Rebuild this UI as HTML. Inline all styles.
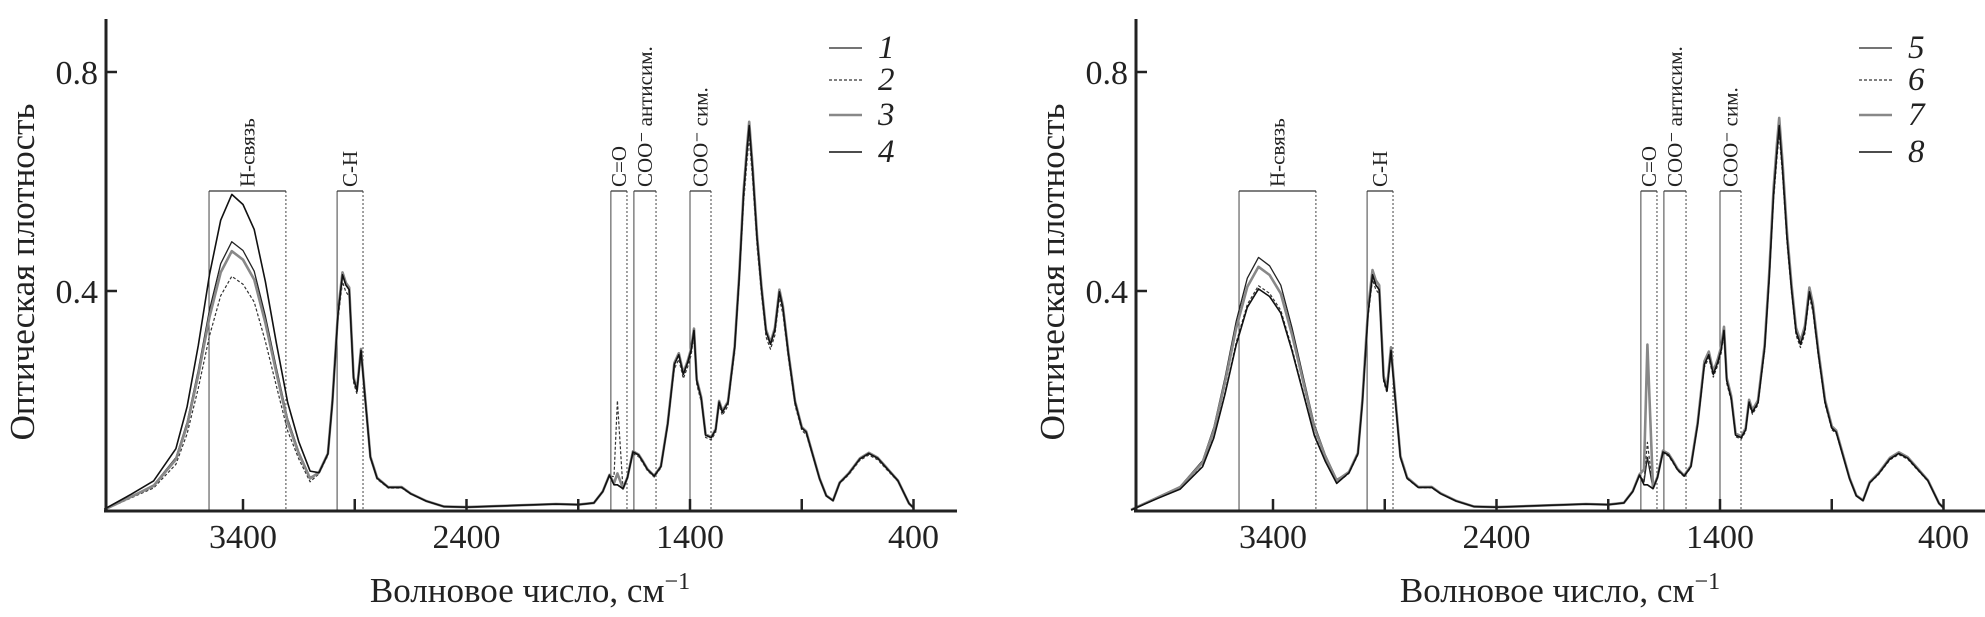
<!DOCTYPE html>
<html><head><meta charset="utf-8"><style>
body{margin:0;background:#fff;width:1985px;height:612px;overflow:hidden}
svg text{font-family:"Liberation Serif",serif;fill:#222}
</style></head><body>
<svg id="s" width="1985" height="612" xmlns="http://www.w3.org/2000/svg"></svg>
<script>
const S=document.getElementById('s');
const base=[[4020,0.005],[3900,0.025],[3800,0.05],[3700,0.11],[3650,0.19],[3600,0.30],[3550,0.43],[3500,0.53],[3450,0.575],[3400,0.56],[3350,0.51],[3300,0.42],[3250,0.30],[3200,0.20],[3150,0.12],[3100,0.075],[3060,0.07],[3020,0.1],[3000,0.2],[2975,0.36],[2955,0.43],[2940,0.41],[2925,0.40],[2905,0.24],[2890,0.22],[2872,0.29],[2855,0.21],[2830,0.1],[2800,0.06],[2750,0.04],[2690,0.045],[2650,0.03],[2580,0.015],[2500,0.004],[2400,0.002],[2200,0.004],[2000,0.008],[1900,0.008],[1830,0.01],[1790,0.03],[1760,0.06],[1740,0.05],[1725,0.05],[1700,0.04],[1680,0.06],[1655,0.11],[1630,0.1],[1610,0.09],[1590,0.07],[1560,0.06],[1530,0.08],[1500,0.16],[1470,0.27],[1450,0.28],[1430,0.25],[1410,0.27],[1395,0.29],[1382,0.33],[1370,0.24],[1350,0.2],[1330,0.14],[1305,0.13],[1285,0.15],[1270,0.2],[1255,0.18],[1230,0.2],[1200,0.3],[1180,0.42],[1160,0.58],[1145,0.66],[1135,0.70],[1120,0.62],[1100,0.5],[1080,0.4],[1060,0.33],[1040,0.3],[1020,0.33],[1000,0.40],[985,0.37],[960,0.29],[930,0.2],[900,0.15],[880,0.14],[850,0.1],[820,0.06],[790,0.03],[760,0.02],[730,0.05],[690,0.07],[640,0.09],[600,0.1],[560,0.095],[520,0.08],[470,0.05],[420,0.015],[400,0]];
function curve(hf,co,cl){return base.map(function(p){var n=p[0],a=p[1];var v=a;if(n>3080)v=a*hf;if(n>1700&&n<1750)v=a+co*Math.exp(-Math.pow((n-1725)/10,2));v=v*(n<3080?cl:1);v+=Math.sin(n*1.7)*0.004;return [n,Math.max(v,0)];});}
function P(tag,attrs,txt){const e=document.createElementNS('http://www.w3.org/2000/svg',tag);for(const k in attrs)e.setAttribute(k,attrs[k]);if(txt!==undefined)e.textContent=txt;S.appendChild(e);return e;}
function panel(ox,curves,labels){
 const X=n=>ox+243+(3400-n)*0.2235, Y=a=>510-a*547.5;
 const boxes=[[3552,3208,'Н-связь'],[2979,2863,'С-Н'],[1754,1682,'С=О'],[1651,1552,'СОО⁻ антисим.'],[1400,1306,'СОО⁻ сим.']];
 boxes.forEach(b=>{const x1=X(b[0]),x2=X(b[1]);
  P('line',{x1:x1,y1:191,x2:x1,y2:510,stroke:'#444','stroke-width':1});
  P('line',{x1:x2,y1:191,x2:x2,y2:510,stroke:'#444','stroke-width':1,'stroke-dasharray':'2,2'});
  P('line',{x1:x1,y1:191,x2:x2,y2:191,stroke:'#333','stroke-width':1.2});
  const cx=(x1+x2)/2;P('text',{x:0,y:0,'font-size':21,transform:'translate('+(cx+7)+',187) rotate(-90)'},b[2]);});
 const styles=[{s:'#222',w:1.3,d:'none'},{s:'#333',w:1.2,d:'3,2'},{s:'#888',w:2.6,d:'none'},{s:'#111',w:1.6,d:'none'}];
 curves.forEach((c,i)=>{const st=styles[i];P('polyline',{points:c.map(p=>X(p[0]).toFixed(1)+','+Y(p[1]).toFixed(1)).join(' '),fill:'none',stroke:st.s,'stroke-width':st.w,'stroke-dasharray':st.d,'stroke-linejoin':'round'});});
 P('line',{x1:ox+106,y1:19,x2:ox+106,y2:512,stroke:'#222','stroke-width':3});
 P('line',{x1:ox+104,y1:511,x2:ox+957,y2:511,stroke:'#222','stroke-width':3});
 [3400,2900,2400,1900,1400,900,400].forEach(n=>P('line',{x1:X(n),y1:499,x2:X(n),y2:510,stroke:'#222','stroke-width':2.5}));
 [[0.4,'0.4'],[0.8,'0.8']].forEach(q=>{P('line',{x1:ox+106,y1:Y(q[0]),x2:ox+117,y2:Y(q[0]),stroke:'#222','stroke-width':2.5});P('text',{x:ox+98,y:Y(q[0])+12,'font-size':34,'text-anchor':'end'},q[1]);});
 [3400,2400,1400,400].forEach(n=>P('text',{x:X(n),y:548,'font-size':34,'text-anchor':'middle'},String(n)));
 const t=P('text',{x:ox+530,y:602,'font-size':35,'text-anchor':'middle'},'Волновое число, см');
 const ts=document.createElementNS('http://www.w3.org/2000/svg','tspan');ts.setAttribute('dy','-13');ts.setAttribute('font-size','24');ts.textContent='−1';t.appendChild(ts);
 P('text',{x:0,y:0,'font-size':35,'text-anchor':'middle',transform:'translate('+(ox+34)+',272) rotate(-90)'},'Оптическая плотность');
 const ly=[58,90,125,162];
 labels.forEach((l,i)=>{const st=styles[i];P('line',{x1:ox+829,y1:ly[i]-10,x2:ox+862,y2:ly[i]-10,stroke:st.s,'stroke-width':st.w,'stroke-dasharray':st.d});P('text',{x:ox+878,y:ly[i],'font-size':33,'font-style':'italic'},l);});
}
panel(0,[curve(0.85,0,1),curve(0.74,0.16,0.97),curve(0.82,0.02,1.01),curve(1,0,1)],['1','2','3','4']);
panel(1030,[curve(0.80,0.05,1),curve(0.71,0.08,0.98),curve(0.77,0.25,1.02),curve(0.70,0,1)].map(c=>c.map(p=>[p[0]>3080?p[0]+15:p[0],p[1]])),['5','6','7','8']);
</script>
</body></html>
